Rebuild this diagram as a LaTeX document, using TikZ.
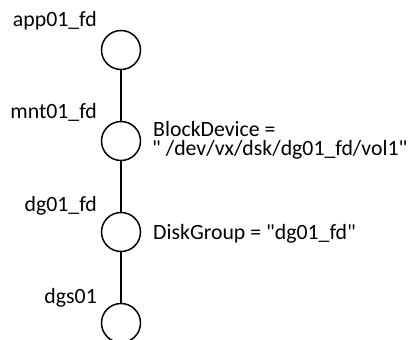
\documentclass[tikz,border=0pt]{standalone}
\usepackage{fontspec}
\setmainfont{Carlito}
\begin{document}
\begin{tikzpicture}[x=1pt,y=-1pt,
  res/.style={draw, line width=1.5pt, circle, minimum size=39pt, inner sep=0pt},
  link/.style={line width=1.5pt},
  lbl/.style={inner sep=0pt, font=\fontsize{21.8pt}{20pt}\selectfont}]
  \clip (0,0) rectangle (410,340);
  \fill[white] (0,0) rectangle (410,340);

  % resource nodes, top to bottom
  \node[res] (app) at (121,50) {};
  \node[res] (mnt) at (121,141) {};
  \node[res] (dg)  at (121,232) {};
  \node[res] (dgs) at (121,323) {};

  % dependency links
  \draw[link] (app) -- (mnt);
  \draw[link] (mnt) -- (dg);
  \draw[link] (dg) -- (dgs);

  % resource names
  \node[lbl, anchor=base east] (appname) at (97,27)  {app01\_fd};
  \node[lbl, anchor=base east] (mntname) at (97,118) {mnt01\_fd};
  \node[lbl, anchor=base east] (dgname)  at (97,211) {dg01\_fd};
  \node[lbl, anchor=base east] (dgsname) at (97,303) {dgs01};

  % attribute values
  \node[lbl, anchor=base west] (bdattr)  at (153,136) {BlockDevice =};
  \node[lbl, anchor=base west] (bdval)   at (152,155) {\textquotedbl\ /dev/vx/dsk/dg01\_fd/vol1\textquotedbl};
  \node[lbl, anchor=base west] (dgattr)  at (153,239) {DiskGroup = \textquotedbl dg01\_fd\textquotedbl};
\end{tikzpicture}
\end{document}
